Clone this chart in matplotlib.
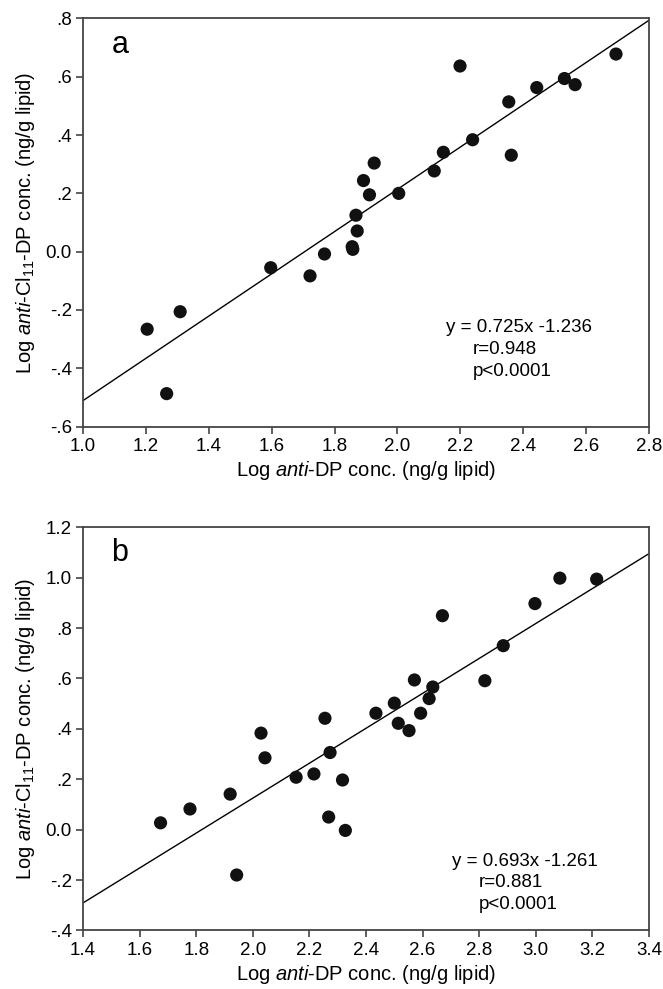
import matplotlib
matplotlib.use("Agg")
import matplotlib.pyplot as plt
from matplotlib.ticker import FixedLocator, FixedFormatter

plt.rcParams["font.family"] = ["Liberation Sans", "DejaVu Sans"]
plt.rcParams["mathtext.fontset"] = "custom"
plt.rcParams["mathtext.rm"] = "Liberation Sans"
plt.rcParams["mathtext.it"] = "Liberation Sans:italic"

# panel a
x_a = [1.204, 1.266, 1.309, 1.597, 1.722, 1.768, 1.856, 1.858, 1.868, 1.872, 1.892, 1.911,
       1.926, 2.004, 2.117, 2.146, 2.199, 2.239, 2.354, 2.362, 2.443, 2.531, 2.565, 2.695]
y_a = [-0.266, -0.487, -0.206, -0.055, -0.083, -0.008, 0.017, 0.008, 0.125, 0.071, 0.244, 0.195,
       0.304, 0.200, 0.277, 0.341, 0.637, 0.384, 0.514, 0.331, 0.563, 0.594, 0.573, 0.678]
slope_a, icpt_a = 0.725, -1.236
xticks_a = [1.0, 1.2, 1.4, 1.6, 1.8, 2.0, 2.2, 2.4, 2.6, 2.8]
yticks_a = [-0.6, -0.4, -0.2, 0.0, 0.2, 0.4, 0.6, 0.8]
ylabels_a = ["-.6", "-.4", "-.2", "0.0", ".2", ".4", ".6", ".8"]
stats_a = ["y = 0.725x -1.236", "r=0.948", "p<0.0001"]

# panel b
x_b = [1.674, 1.778, 1.920, 1.943, 2.029, 2.043, 2.153, 2.216, 2.255, 2.268, 2.273, 2.317,
       2.327, 2.435, 2.500, 2.514, 2.552, 2.571, 2.593, 2.623, 2.636, 2.670, 2.820, 2.885,
       2.997, 3.085, 3.215]
y_b = [0.027, 0.082, 0.141, -0.180, 0.383, 0.285, 0.208, 0.221, 0.442, 0.050, 0.306, 0.197,
       -0.003, 0.462, 0.502, 0.422, 0.393, 0.594, 0.462, 0.520, 0.566, 0.849, 0.591, 0.730,
       0.897, 0.998, 0.994]
slope_b, icpt_b = 0.693, -1.261
xticks_b = [1.4, 1.6, 1.8, 2.0, 2.2, 2.4, 2.6, 2.8, 3.0, 3.2, 3.4]
yticks_b = [-0.4, -0.2, 0.0, 0.2, 0.4, 0.6, 0.8, 1.0, 1.2]
ylabels_b = ["-.4", "-.2", "0.0", ".2", ".4", ".6", ".8", "1.0", "1.2"]
stats_b = ["y = 0.693x -1.261", "r=0.881", "p<0.0001"]

xlabel = r"Log $\mathit{anti}$-DP conc. (ng/g lipid)"
ylabel = r"Log $\mathit{anti}$-Cl$_{11}$-DP conc. (ng/g lipid)"

fig = plt.figure(figsize=(6.63, 9.89), dpi=100)
ax_a = fig.add_axes([0.1252, 0.5687, 0.8537, 0.4126])
ax_b = fig.add_axes([0.1252, 0.0592, 0.8537, 0.4077])


def panel(ax, xs, ys, slope, icpt, xt, yt, ylab, stats, letter, tx, ty):
    x0, x1 = xt[0], xt[-1]
    ax.plot([x0, x1], [slope * x0 + icpt, slope * x1 + icpt], color="black", lw=1.0, zorder=2)
    ax.scatter(xs, ys, s=90, color="#111111", edgecolors="none", zorder=3)
    ax.set_xlim(x0, x1)
    ax.set_ylim(yt[0], yt[-1])
    ax.xaxis.set_major_locator(FixedLocator(xt))
    ax.xaxis.set_major_formatter(FixedFormatter(["%.1f" % v for v in xt]))
    ax.yaxis.set_major_locator(FixedLocator(yt))
    ax.yaxis.set_major_formatter(FixedFormatter(ylab))
    for sp in ax.spines.values():
        sp.set_color("#444444")
        sp.set_linewidth(1.3)
    ax.tick_params(direction="out", length=5, width=1.2, color="#444444",
                   labelsize=13.5, pad=3)
    ax.set_xlabel(xlabel, fontsize=14.5, labelpad=3)
    ax.set_ylabel(ylabel, fontsize=14.5, labelpad=6)
    ax.text(0.05, 0.935, letter, transform=ax.transAxes, fontsize=22, va="center")
    ax.text(tx, ty, stats[0], transform=ax.transAxes, fontsize=13.5, va="center")
    ax.text(tx + 0.047, ty - 0.054, stats[1], transform=ax.transAxes, fontsize=13.5, va="center")
    ax.text(tx + 0.047, ty - 0.108, stats[2], transform=ax.transAxes, fontsize=13.5, va="center")


panel(ax_a, x_a, y_a, slope_a, icpt_a, xticks_a, yticks_a, ylabels_a, stats_a, "a", 0.641, 0.242)
panel(ax_b, x_b, y_b, slope_b, icpt_b, xticks_b, yticks_b, ylabels_b, stats_b, "b", 0.652, 0.172)

fig.savefig("out.png", dpi=100)
